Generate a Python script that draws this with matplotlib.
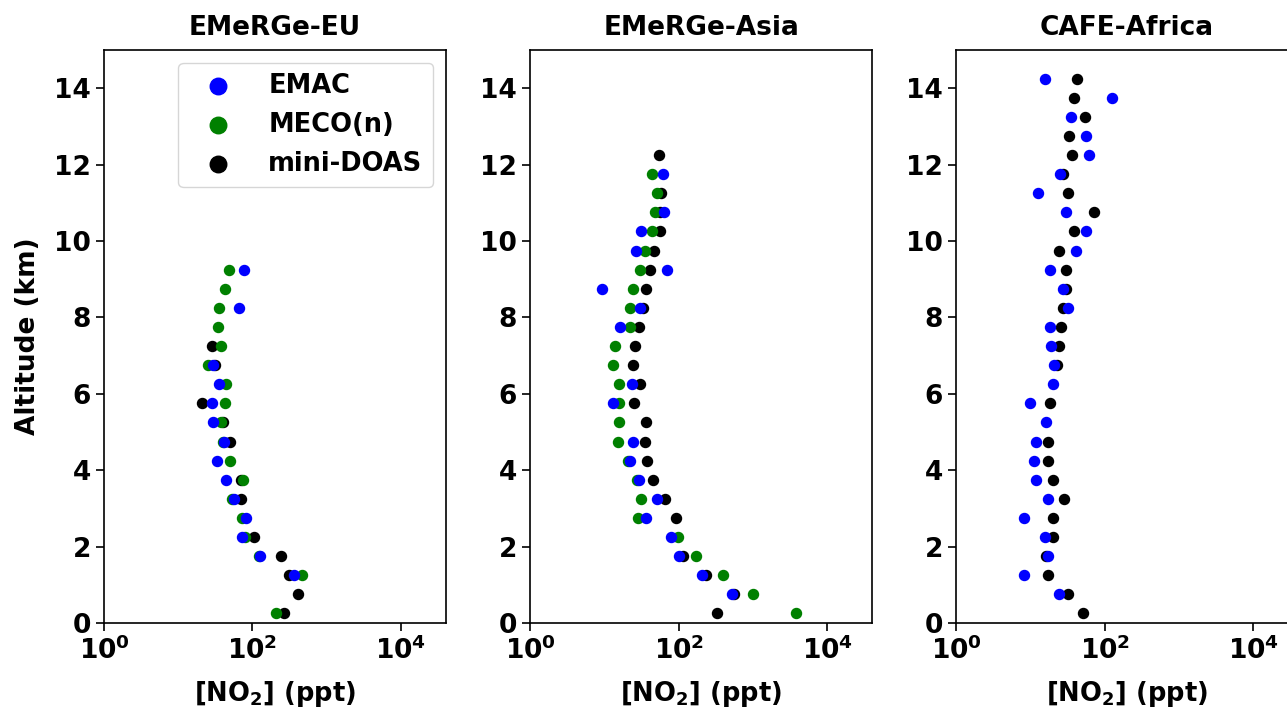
import matplotlib
matplotlib.use("Agg")
import matplotlib.pyplot as plt
import numpy as np

nan = np.nan

# altitude bin centres (km)
altitude = [0.25, 0.75, 1.25, 1.75, 2.25, 2.75, 3.25, 3.75, 4.25, 4.75,
            5.25, 5.75, 6.25, 6.75, 7.25, 7.75, 8.25, 8.75, 9.25, 9.75,
            10.25, 10.75, 11.25, 11.75, 12.25, 12.75, 13.25, 13.75, 14.25]

# NO2 (ppt), bottom to top
eu_emac = [nan, nan, 364, 128, 71.7, 81.3, 56.5, 44.1, 33.3, 41.8,
           29.2, 28.5, 35.5, 29.7, nan, nan, 66.6, nan, 77, nan,
           nan, nan, nan, nan, nan, nan, nan, nan, nan]
eu_meco = [206, nan, 471, 124, 79.5, 73.1, 53.6, 75.4, 49.9, 39.8,
           37.4, 42.3, 44.5, 25.5, 37.4, 34.1, 35.5, 43.1, 48, nan,
           nan, nan, nan, nan, nan, nan, nan, nan, nan]
eu_doas = [269, 412, 311, 241, 106, nan, 70.2, 70.2, nan, 50.4,
           39.8, 21.1, nan, 31, 28.8, nan, nan, nan, nan, nan,
           nan, nan, nan, nan, nan, nan, nan, nan, nan]

asia_emac = [nan, 523, 208, 100, 79.5, 36.3, 50.5, 29.4, 22.1, 24.4,
             nan, 12.9, 23.7, nan, nan, 16.2, 30.4, 9.2, 70.2, 26.6,
             30.7, 62.8, nan, 61.4, nan, nan, nan, nan, nan]
asia_meco = [3774, 1003, 395, 173, 98.8, 28, 31, 27, 20.7, 15.2,
             15.8, 15.8, 15.5, 13.1, 13.7, 22.1, 22.1, 24.4, 30.1, 35.1,
             43.3, 48, 51, 43.6, nan, nan, nan, nan, nan]
asia_doas = [328, 556, 233, 114, nan, 91.2, 65.4, 45, 37.4, 35.1,
             36.3, 25, 30.1, 24, 25.5, 29.2, 32.7, 35.9, 40.7, 46,
             55.5, 56, 57.2, nan, 54.3, nan, nan, nan, nan]

africa_emac = [nan, 24.1, 8.2, 17.3, 15.9, 8.3, 17.1, 12, 11.3, 12,
               16.2, 10, 20, 21, 18.9, 18.2, 32.4, 27.3, 18.5, 40.8,
               56.2, 30.2, 12.7, 25.1, 61.6, 56.7, 35.3, 126, 15.6]
africa_doas = [50.7, 31.8, 17.1, 16.2, 20.4, 20, 28.4, 20, 17.1, 17.1,
               nan, 18.5, nan, 22.8, 24.5, 25.8, 27.5, 29.9, 30.5, 24.5,
               39.1, 72.6, 32.4, 27.8, 36, 33.1, 53.9, 38.3, 42.1]

titles = ["EMeRGe-EU", "EMeRGe-Asia", "CAFE-Africa"]
panels = [
    (eu_emac, eu_meco, eu_doas),
    (asia_emac, asia_meco, asia_doas),
    (africa_emac, None, africa_doas),
]

plt.rcParams["font.family"] = "DejaVu Sans"
plt.rcParams["font.weight"] = "bold"
plt.rcParams["axes.labelweight"] = "bold"
plt.rcParams["axes.titleweight"] = "bold"
plt.rcParams["font.size"] = 19

fig = plt.figure(figsize=(12.87, 7.10), dpi=100)
lefts = [0.0808, 0.412, 0.743]

for i, (left, title, (emac, meco, doas)) in enumerate(zip(lefts, titles, panels)):
    ax = fig.add_axes([left, 0.1225, 0.2655, 0.807])
    ax.scatter(doas, altitude, s=52, color="black", label="mini-DOAS", zorder=2)
    if meco is not None:
        ax.scatter(meco, altitude, s=52, color="green", label="MECO(n)", zorder=3)
    ax.scatter(emac, altitude, s=52, color="blue", label="EMAC", zorder=4)

    ax.set_xscale("log")
    ax.set_xlim(1, 4e4)
    ax.set_ylim(0, 15)
    ax.set_xticks([1, 1e2, 1e4])
    ax.xaxis.set_minor_locator(matplotlib.ticker.NullLocator())
    ax.set_yticks([0, 2, 4, 6, 8, 10, 12, 14])
    ax.tick_params(length=6, width=1.2, labelsize=19)
    for sp in ax.spines.values():
        sp.set_linewidth(1.2)
    ax.set_title(title, fontsize=19, pad=11)
    ax.set_xlabel("[NO$_\\mathbf{2}$] (ppt)", fontsize=18.5, labelpad=10)
    if i == 0:
        ax.set_ylabel("Altitude (km)", fontsize=19, labelpad=9)
        handles, labels = ax.get_legend_handles_labels()
        order = [2, 1, 0]
        ax.legend([handles[k] for k in order], [labels[k] for k in order],
                  loc="upper right", fontsize=18.5, markerscale=1.65,
                  labelspacing=0.5, handletextpad=0.8, handlelength=2.3)

fig.savefig("out.png", dpi=100)
